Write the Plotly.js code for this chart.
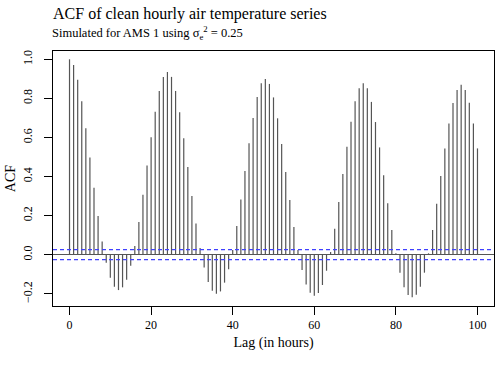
<!DOCTYPE html>
<html>
<head>
<meta charset="utf-8">
<script src="https://cdn.plot.ly/plotly-3.0.1.min.js"></script>
<style>
  html, body { margin: 0; padding: 0; background: #fff; }
  #acfPlot { width: 500px; height: 365px; }
</style>
</head>
<body>
<div id="acfPlot"></div>
<script>
// ================= DATA =================
let lags = [];
for (let i = 0; i <= 100; i++) lags.push(i);

let acfValues = [
    1.000, 0.971, 0.896, 0.785, 0.647, 0.497, 0.343, 0.198, 0.067, -0.041,
    -0.118, -0.164, -0.181, -0.167, -0.128, -0.056, 0.044, 0.167, 0.307, 0.456,
    0.601, 0.732, 0.838, 0.910, 0.935, 0.910, 0.838, 0.729, 0.596, 0.449,
    0.300, 0.160, 0.034, -0.065, -0.140, -0.184, -0.200, -0.188, -0.143, -0.075,
    0.024, 0.147, 0.283, 0.428, 0.570, 0.700, 0.807, 0.877, 0.899, 0.874,
    0.805, 0.698, 0.567, 0.423, 0.280, 0.142, 0.024, -0.078, -0.152, -0.195,
    -0.210, -0.196, -0.155, -0.082, 0.014, 0.133, 0.270, 0.413, 0.553, 0.681,
    0.785, 0.852, 0.877, 0.852, 0.782, 0.679, 0.549, 0.406, 0.263, 0.126,
    0.007, -0.092, -0.166, -0.206, -0.218, -0.205, -0.164, -0.092, 0.007, 0.126,
    0.261, 0.403, 0.544, 0.672, 0.776, 0.843, 0.870, 0.843, 0.778, 0.672,
    0.544
];

let ciBound = 0.0256; // 1.96 / sqrt(n)

let xTicks = [0, 20, 40, 60, 80, 100];
let yTicks = [-0.2, 0.0, 0.2, 0.4, 0.6, 0.8, 1.0];

// ================= BUILD SPIKES =================
// one vertical segment per lag, separated by nulls
let spikeX = [], spikeY = [];
for (let i = 0; i < lags.length; i++) {
    spikeX.push(lags[i], lags[i], null);
    spikeY.push(0, acfValues[i], null);
}

let serif = "Liberation Serif";

let traceSpikes = {
    x: spikeX, y: spikeY, mode: 'lines', type: 'scatter',
    line: { color: '#555', width: 1.2 }, hoverinfo: 'skip', showlegend: false
};

let ciShape = (val) => ({
    type: 'line', xref: 'paper', x0: 0, x1: 1, yref: 'y', y0: val, y1: val,
    line: { color: '#4040ff', width: 1.2, dash: '4px,3px' }
});

let layout = {
    width: 500, height: 365,
    margin: { l: 53, r: 6, t: 51, b: 59 },
    paper_bgcolor: '#fff', plot_bgcolor: '#fff',
    font: { family: serif, color: '#000', size: 12 },
    title: {
        text: 'ACF of clean hourly air temperature series',
        font: { family: serif, size: 16, color: '#000' },
        xref: 'paper', x: 0, xanchor: 'left',
        yref: 'container', y: 1 - 13 / 365, yanchor: 'middle', pad: { l: 0, r: 0, t: 0, b: 0 }
    },
    annotations: [{
        text: 'Simulated for AMS 1 using σ<sub>e</sub><sup>2</sup> = 0.25',
        xref: 'paper', x: -0.006, xanchor: 'left',
        yref: 'paper', y: (306 - 33) / 255, yanchor: 'middle',
        showarrow: false, font: { family: serif, size: 12.5, color: '#000' }
    }],
    xaxis: {
        range: [-4.05, 104.05], tickvals: xTicks, ticks: 'outside', ticklen: 8,
        tickcolor: '#000', tickfont: { family: serif, size: 12, color: '#000' },
        showline: true, mirror: true, linecolor: '#000', linewidth: 1,
        showgrid: false, zeroline: false,
        title: { text: 'Lag (in hours)', font: { family: serif, size: 14, color: '#000' }, standoff: 5 }
    },
    yaxis: {
        range: [-0.2625, 1.0425], tickvals: yTicks, tickformat: '.1f',
        tickangle: -90, ticks: 'outside', ticklen: 8, tickcolor: '#000',
        tickfont: { family: serif, size: 12, color: '#000' }, ticklabelstandoff: 7,
        showline: true, mirror: true, linecolor: '#000', linewidth: 1,
        showgrid: false, zeroline: true, zerolinecolor: '#555', zerolinewidth: 1.5,
        title: { text: 'ACF', font: { family: serif, size: 14, color: '#000' }, standoff: 2 }
    },
    shapes: [ciShape(ciBound), ciShape(-ciBound)],
    showlegend: false
};

Plotly.newPlot('acfPlot', [traceSpikes], layout, { staticPlot: true, displayModeBar: false });
</script>
</body>
</html>
